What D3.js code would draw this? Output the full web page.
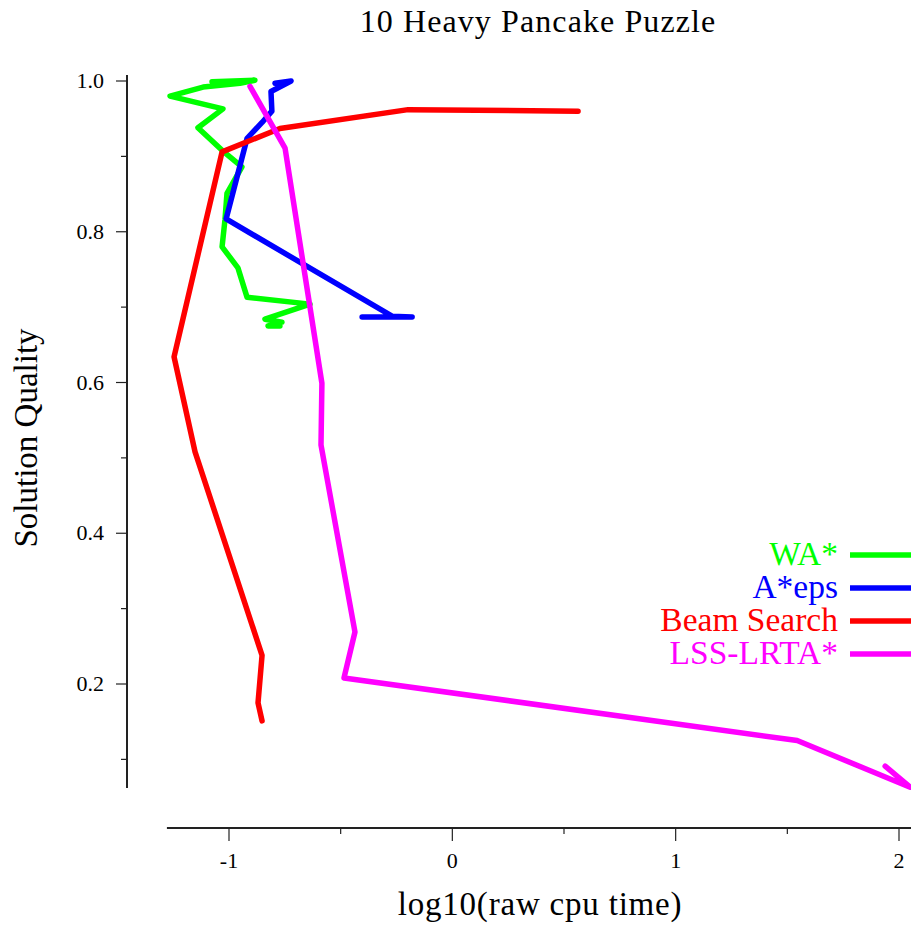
<!DOCTYPE html>
<html>
<head>
<meta charset="utf-8">
<script src="https://cdn.jsdelivr.net/npm/d3@7"></script>
<style>
  body { margin: 0; background: #fff; }
  svg text { font-family: "Liberation Serif", "DejaVu Serif", serif; }
</style>
</head>
<body>
<div class="chart"></div>
<script>
// series: [log10(cpu time), solution quality]
var wa = [[-1.076, 0.999], [-0.884, 1.001], [-0.951, 0.997], [-1.116, 0.992], [-1.264, 0.980],
  [-1.027, 0.963], [-1.139, 0.938], [-1.031, 0.908], [-0.942, 0.886], [-1.009, 0.851],
  [-1.018, 0.816], [-1.031, 0.780], [-0.960, 0.752], [-0.919, 0.713], [-0.637, 0.704],
  [-0.839, 0.684], [-0.763, 0.680], [-0.825, 0.675], [-0.772, 0.675]]
var aeps = [[-0.794, 0.997], [-0.722, 1.000], [-0.812, 0.986], [-0.808, 0.960], [-0.852, 0.945],
  [-0.919, 0.924], [-1.013, 0.817], [-0.270, 0.688], [-0.180, 0.687], [-0.404, 0.687]]
var beam = [[0.563, 0.960], [-0.198, 0.962], [-0.772, 0.937], [-1.031, 0.906], [-1.246, 0.634],
  [-1.152, 0.508], [-0.852, 0.238], [-0.870, 0.175], [-0.852, 0.151]]
var lss = [[-0.906, 0.993], [-0.749, 0.911], [-0.584, 0.599], [-0.588, 0.517], [-0.436, 0.269],
  [-0.485, 0.208], [1.544, 0.125], [2.050, 0.063], [1.938, 0.091]]

var names = ["WA*", "A*eps", "Beam Search", "LSS-LRTA*"]
var colors = ["#00ff00", "#0000ff", "#ff0000", "#ff00ff"]
var xTicks = [-1, 0, 1, 2],
  xMinor = [-0.5, 0.5, 1.5]
var yTicks = [0.2, 0.4, 0.6, 0.8, 1.0],
  yMinor = [0.1, 0.3, 0.5, 0.7, 0.9]

document.addEventListener("DOMContentLoaded", draw)

function draw() {
  var width = 911,
    height = 925

  var svg = d3.select(".chart").append("svg")
    .attr("width", width)
    .attr("height", height)

  var x = d3.scaleLinear().domain([-1, 2]).range([229, 899]),
    y = d3.scaleLinear().domain([0.2, 1]).range([684, 81])

  // x axis, sits below the plot
  var xAxis = svg.append("g").attr("transform", "translate(0,828)")
  xAxis.append("line")
    .attr("x1", x(-1.278)).attr("x2", width)
    .attr("stroke", "#222").attr("stroke-width", 2)
  xAxis.selectAll(".major").data(xTicks).enter().append("line")
    .attr("x1", x).attr("x2", x).attr("y1", 0).attr("y2", 13)
    .attr("stroke", "#222").attr("stroke-width", 1.2)
  xAxis.selectAll(".minor").data(xMinor).enter().append("line")
    .attr("x1", x).attr("x2", x).attr("y1", 0).attr("y2", 6)
    .attr("stroke", "#222").attr("stroke-width", 1.2)
  xAxis.selectAll("text").data(xTicks).enter().append("text")
    .attr("x", x).attr("y", 40)
    .attr("text-anchor", "middle")
    .attr("font-size", 22)
    .text(function(d) { return d })

  // y axis
  var yAxis = svg.append("g").attr("transform", "translate(127,0)")
  yAxis.append("line")
    .attr("y1", y(1.008)).attr("y2", y(0.062))
    .attr("stroke", "#222").attr("stroke-width", 2)
  yAxis.selectAll(".major").data(yTicks).enter().append("line")
    .attr("y1", y).attr("y2", y).attr("x1", 0).attr("x2", -11)
    .attr("stroke", "#222").attr("stroke-width", 1.2)
  yAxis.selectAll(".minor").data(yMinor).enter().append("line")
    .attr("y1", y).attr("y2", y).attr("x1", 0).attr("x2", -6)
    .attr("stroke", "#222").attr("stroke-width", 1.2)
  yAxis.selectAll("text").data(yTicks).enter().append("text")
    .attr("x", -23).attr("y", function(d) { return y(d) + 7 })
    .attr("text-anchor", "end")
    .attr("font-size", 22)
    .text(d3.format(".1f"))

  svg.append("text")
    .attr("x", 538).attr("y", 32)
    .attr("text-anchor", "middle")
    .attr("font-size", 32)
    .attr("letter-spacing", 1.1)
    .text("10 Heavy Pancake Puzzle")

  svg.append("text")
    .attr("x", 540).attr("y", 915)
    .attr("text-anchor", "middle")
    .attr("font-size", 33)
    .attr("letter-spacing", 0.8)
    .text("log10(raw cpu time)")

  svg.append("text")
    .attr("transform", "translate(37,438) rotate(-90)")
    .attr("text-anchor", "middle")
    .attr("font-size", 33)
    .text("Solution Quality")

  var line = d3.line()
    .x(function(d) { return x(d[0]) })
    .y(function(d) { return y(d[1]) })

  svg.append("g").selectAll("path")
    .data([wa, aeps, beam, lss])
    .enter().append("path")
    .attr("d", line)
    .attr("fill", "none")
    .attr("stroke", function(d, i) { return colors[i] })
    .attr("stroke-width", 5.5)
    .attr("stroke-linejoin", "round")
    .attr("stroke-linecap", "round")

  // legend, right aligned at the edge
  var legend = svg.append("g").selectAll("g")
    .data(names)
    .enter().append("g")
    .attr("transform", function(d, i) { return "translate(0," + (555 + i * 33) + ")" })
  legend.append("line")
    .attr("x1", 850).attr("x2", 915)
    .attr("stroke", function(d, i) { return colors[i] })
    .attr("stroke-width", 5.5)
  legend.append("text")
    .attr("x", 838).attr("y", 10)
    .attr("text-anchor", "end")
    .attr("font-size", 33.5)
    .attr("fill", function(d, i) { return colors[i] })
    .text(function(d) { return d })
}
</script>
</body>
</html>
